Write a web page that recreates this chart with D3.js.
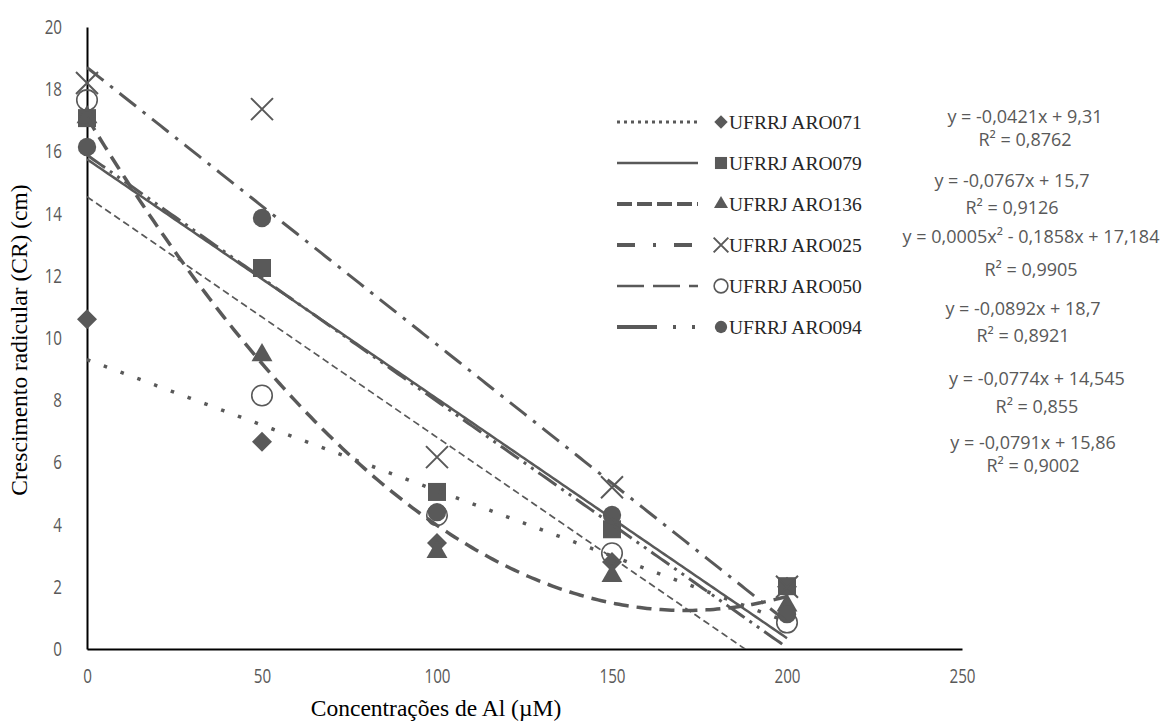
<!DOCTYPE html>
<html><head><meta charset="utf-8">
<script src="https://cdn.jsdelivr.net/npm/d3@7/dist/d3.min.js"></script>
<style>body{margin:0;background:#fff}svg{display:block}</style>
</head><body><svg id="c" width="1167" height="726"></svg>
<script>
// ---- data ----
const concentrations = [0, 50, 100, 150, 200];
const seriesNames = ["UFRRJ ARO071","UFRRJ ARO079","UFRRJ ARO136","UFRRJ ARO025","UFRRJ ARO050","UFRRJ ARO094"];
const aro071 = [10.6, 6.66, 3.41, 2.8, 2.0];
const aro079 = [17.07, 12.25, 5.05, 3.85, 2.02];
const aro136 = [17.1, 9.45, 3.12, 2.35, 1.4];
const aro025 = [18.2, 17.36, 6.17, 5.2, 2.0];
const aro050 = [17.65, 8.15, 4.3, 3.08, 0.85];
const aro094 = [16.14, 13.86, 4.4, 4.31, 1.12];
const trendTypes = ["linear","linear","poly2","linear","linear","linear"];
const xTicks = [0, 50, 100, 150, 200, 250];
const yTicks = [0, 2, 4, 6, 8, 10, 12, 14, 16, 18, 20];
const eqLabels = ["y = -0,0421x + 9,31","y = -0,0767x + 15,7","y = 0,0005x² - 0,1858x + 17,184","y = -0,0892x + 18,7","y = -0,0774x + 14,545","y = -0,0791x + 15,86"];
const r2Labels = ["R² = 0,8762","R² = 0,9126","R² = 0,9905","R² = 0,8921","R² = 0,855","R² = 0,9002"];
const xTitle = "Concentrações de Al (µM)";
const yTitle = "Crescimento radicular (CR) (cm)";

const allValues = [aro071, aro079, aro136, aro025, aro050, aro094];

// ---- styles ----
const grey = "#595959";
const markerTypes = ["diamond","square","triangle","times","ocircle","circle"];
const trendDash = ["3.5,14.4", null, "15,8", "21,8.5,3.5,8.5", "7,4", "22,6,3,6,3,6"];
const trendWidth = [3.5, 2.5, 3.5, 3, 1.7, 3];
const legendDash = ["3,4", null, "15,5", "18,18,3,18", "27,9", "40,16,3,16,3,16"];
const legendWidth = [3, 2.5, 4, 4, 2.5, 4];
const eqPos = [[1025,117,140],[1012,181,208],[1031,237,270],[1023,309,336],[1037,379,407],[1033,443,466]];

const svg = d3.select("#c");
const x = d3.scaleLinear().domain([0,250]).range([87,962]);
const y = d3.scaleLinear().domain([0,20]).range([649,27]);

svg.append("defs").append("clipPath").attr("id","pa").append("rect")
  .attr("x",87).attr("y",20).attr("width",875).attr("height",629);

// axes
const sx = 0.92, sy = 1.22;
const xa = svg.append("g").attr("transform","translate(0,649)")
  .call(d3.axisBottom(x).tickValues(xTicks).tickSize(0));
xa.selectAll(".tick text").attr("y", 27/sy).attr("dy","0.35em").attr("transform",`scale(${sx},${sy})`);
const ya = svg.append("g").attr("transform","translate(87,0)")
  .call(d3.axisLeft(y).tickValues(yTicks).tickSize(0));
ya.selectAll(".tick text").attr("x", -25/sx).attr("transform",`scale(${sx},${sy})`);
[xa, ya].forEach(a => {
  a.select(".domain").attr("stroke","#000").attr("stroke-width",2);
  a.selectAll("text").attr("fill",grey).attr("font-family","Open Sans, sans-serif").attr("font-size",16.5);
});

// markers
function sym(t, s) {
  const map = {diamond:[d3.symbolDiamond2,255], square:[d3.symbolSquare,324], triangle:[d3.symbolTriangle,190],
    times:[d3.symbolTimes,317], ocircle:[d3.symbolCircle,330], circle:[d3.symbolCircle,265]};
  const m = map[t];
  return d3.symbol().type(m[0]).size(m[1]*s)();
}
function styleMarker(sel, t) {
  if (t === "times") sel.attr("fill","none").attr("stroke",grey).attr("stroke-width",2);
  else if (t === "ocircle") sel.attr("fill","#fff").attr("fill-opacity",0).attr("stroke",grey).attr("stroke-width",1.6);
  else sel.attr("fill",grey).attr("stroke","none");
}
allValues.forEach((vals, i) => {
  const g = svg.append("g");
  g.selectAll("path").data(vals).join("path")
    .attr("d", sym(markerTypes[i], 1))
    .attr("transform", (d, j) => `translate(${x(concentrations[j])},${y(d)})`)
    .call(styleMarker, markerTypes[i]);
});

// trend lines (least squares fits)
function linFit(xs, ys) {
  const mx = d3.mean(xs), my = d3.mean(ys);
  let sxy = 0, sxx = 0;
  xs.forEach((v, k) => { sxy += (v-mx)*(ys[k]-my); sxx += (v-mx)*(v-mx); });
  const b = sxy/sxx; return [0, b, my - b*mx];
}
function quadFit(xs, ys) {
  const S = p => d3.sum(xs, v => Math.pow(v, p));
  const T = p => d3.sum(xs, (v, k) => Math.pow(v, p)*ys[k]);
  const A = [[S(4),S(3),S(2)],[S(3),S(2),S(1)],[S(2),S(1),xs.length]];
  const B = [T(2),T(1),T(0)];
  const det = M => M[0][0]*(M[1][1]*M[2][2]-M[1][2]*M[2][1]) - M[0][1]*(M[1][0]*M[2][2]-M[1][2]*M[2][0]) + M[0][2]*(M[1][0]*M[2][1]-M[1][1]*M[2][0]);
  const D = det(A);
  return [0,1,2].map(c => det(A.map((row, r) => row.map((v, k) => k === c ? B[r] : v))) / D);
}
const lineGen = d3.line().x(d => x(d[0])).y(d => y(d[1]));
const tg = svg.append("g").attr("clip-path","url(#pa)");
allValues.forEach((vals, i) => {
  const c = trendTypes[i] === "poly2" ? quadFit(concentrations, vals) : linFit(concentrations, vals);
  const pts = d3.range(0, 200.5, 1).map(v => [v, c[0]*v*v + c[1]*v + c[2]]);
  tg.append("path").datum(pts).attr("d", lineGen).attr("fill","none")
    .attr("stroke", grey).attr("stroke-width", trendWidth[i])
    .attr("stroke-dasharray", trendDash[i]);
});

// legend
const lg = svg.append("g");
seriesNames.forEach((name, i) => {
  const yy = 122 + i*41;
  lg.append("line").attr("x1",617).attr("x2",698).attr("y1",yy).attr("y2",yy)
    .attr("stroke",grey).attr("stroke-width",legendWidth[i]).attr("stroke-dasharray",legendDash[i]);
  lg.append("path").attr("d", sym(markerTypes[i], 0.45)).attr("transform",`translate(721,${yy})`)
    .call(styleMarker, markerTypes[i]);
  lg.append("text").attr("x",729).attr("y",yy).attr("dy","0.35em")
    .attr("font-family","Liberation Serif, Times New Roman, serif").attr("font-size",19.5).attr("fill","#262626")
    .text(name);
});

// equation labels
const eg = svg.append("g").attr("font-family","Open Sans, sans-serif").attr("font-size",18)
  .attr("fill",grey).attr("text-anchor","middle");
eqLabels.forEach((t, i) => {
  eg.append("text").attr("x",eqPos[i][0]).attr("y",eqPos[i][1]).attr("dy","0.35em").text(t);
  eg.append("text").attr("x",eqPos[i][0]).attr("y",eqPos[i][2]).attr("dy","0.35em").text(r2Labels[i]);
});

// axis titles
svg.append("text").attr("x",436).attr("y",708).attr("dy","0.35em").attr("text-anchor","middle")
  .attr("font-family","Liberation Serif, Times New Roman, serif").attr("font-size",23.5).attr("fill","#000")
  .text(xTitle);
svg.append("text").attr("transform","translate(19,340) rotate(-90)").attr("dy","0.35em").attr("text-anchor","middle")
  .attr("font-family","Liberation Serif, Times New Roman, serif").attr("font-size",23.5).attr("fill","#000")
  .text(yTitle);
</script></body></html>
